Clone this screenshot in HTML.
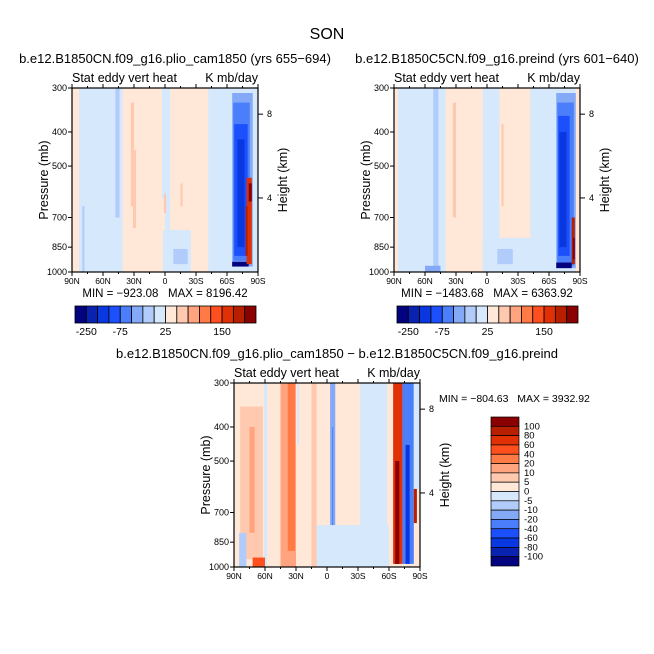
<!DOCTYPE html>
<html><head><meta charset="utf-8"><style>
body{margin:0;background:#fff}
svg{display:block;font-family:"Liberation Sans",sans-serif}
</style></head><body>
<svg id="c" width="654" height="654" viewBox="0 0 654 654">
<text x="327" y="39" font-size="16" text-anchor="middle">SON</text>
</svg>
<script>
const colors16 = ['#03037f','#0a22b0','#0a38e0','#1d50fd','#4a7efa','#83a9f7','#b1ccfb','#d6e8fc','#ffe8d8','#ffc9b0','#ffa47e','#ff7a45','#ff4f1f','#e03006','#b81e00','#8b0000'];
const barLabels = ['-250','-75','25','150'];
const barLabelIdx = [1,4,8,13];
const diffLabels = ['100','80','60','40','20','10','5','0','-5','-10','-20','-40','-60','-80','-100'];
const pTicks = [300,400,500,700,850,1000];
const latTicks = [90,60,30,0,-30,-60,-90];
const latNames = ['90N','60N','30N','0','30S','60S','90S'];
const hTicks = [8,4];
const hTickP = [356,616];
// bands: [latLeft, latRight, pTop, pBottom, colorIndex]
const bands1 = [[90,-90,300,1000,7],[90,83,300,1000,8],[83,41,300,1000,7],[48,44,300,700,6],[80,78,650,1000,6],[41,0,300,1000,8],[33,30,330,650,9],[31,28,450,750,9],[3,-5,300,620,7],[2,-25,760,1000,7],[-8,-22,860,950,6],[-5,-42,300,760,8],[-25,-42,760,1000,8],[-15,-17,560,650,9],[1,-1,600,680,9],[-42,-66,300,1000,7],[-65,-85,310,965,5],[-66,-82,330,930,4],[-67,-80,380,900,3],[-70,-77,420,850,2],[-65,-81,935,965,0],[-79,-84,540,950,13],[-81,-84,560,630,15],[-78,-80,650,900,14],[-85,-90,300,1000,7]];
const bands2 = [[90,-90,300,1000,7],[90,86,300,1000,8],[86,40,300,1000,7],[52,47,300,1000,6],[60,45,960,1000,5],[40,4,300,1000,8],[33,30,330,700,9],[4,-12,300,1000,7],[-12,-42,300,800,8],[-14,-16,380,650,9],[4,-40,800,1000,7],[-10,-25,860,950,6],[-42,-67,300,1000,7],[-67,-86,310,975,5],[-68,-84,330,960,4],[-69,-80,360,900,3],[-70,-77,400,850,2],[-67,-82,940,975,0],[-82,-85,700,950,14],[-83,-85,800,920,15],[-86,-90,300,1000,8]];
const bands3 = [[90,-90,300,1000,8],[84,62,350,950,9],[75,70,400,800,10],[61,58,300,1000,7],[45,30,300,1000,10],[38,31,300,900,11],[29,27,300,450,7],[15,10,300,1000,9],[-3,-8,300,1000,5],[-5,-6,400,800,4],[-32,-58,300,1000,7],[10,-60,760,1000,7],[85,78,800,1000,6],[72,60,940,1000,12],[-64,-73,300,980,13],[-66,-70,500,980,15],[-73,-84,300,980,4],[-76,-80,450,980,2],[-84,-90,300,600,7],[-84,-87,600,750,14]];
const svg = document.getElementById('c');
const NS = 'http://www.w3.org/2000/svg';
function mk(tag, attrs, parent){const e=document.createElementNS(NS,tag);for(const k in attrs)e.setAttribute(k,attrs[k]);(parent||svg).appendChild(e);return e;}
function panel(x0,y0,bands,title,mm,name){
  const w=186,h=184;
  const xOf=lat=>x0+(90-lat)/180*w;
  const yOf=p=>y0+Math.log(p/300)/Math.log(1000/300)*h;
  const g=mk('g',{});
  
  
  bands.forEach(b=>{
    const r=mk('rect',{x:xOf(b[0]),y:yOf(b[2]),width:xOf(b[1])-xOf(b[0]),height:yOf(b[3])-yOf(b[2]),fill:colors16[b[4]]},g);
    
    
  });
  const fr=mk('rect',{x:x0,y:y0,width:w,height:h,fill:'none',stroke:'#000','stroke-width':1.2},g);
  
  
  pTicks.forEach(p=>{
    mk('line',{x1:x0-4,x2:x0,y1:yOf(p),y2:yOf(p),stroke:'#000'},g);
    const t=mk('text',{x:x0-5,y:yOf(p)+3,'font-size':9,'text-anchor':'end'},g);t.textContent=p;
    
    
  });
  latTicks.forEach((l,i)=>{
    mk('line',{x1:xOf(l),x2:xOf(l),y1:y0+h,y2:y0+h+4,stroke:'#000'},g);
    mk('line',{x1:xOf(l),x2:xOf(l),y1:y0,y2:y0-4,stroke:'#000'},g);
    const t=mk('text',{x:xOf(l),y:y0+h+12,'font-size':8.5,'text-anchor':'middle'},g);t.textContent=latNames[i];
    
    
  });
  for(let l=75;l>-90;l-=15){if(l%30){mk('line',{x1:xOf(l),x2:xOf(l),y1:y0+h,y2:y0+h+2,stroke:'#000'},g);mk('line',{x1:xOf(l),x2:xOf(l),y1:y0,y2:y0-2,stroke:'#000'},g);}}
  hTicks.forEach((hk,i)=>{
    const y=yOf(hTickP[i]);
    mk('line',{x1:x0+w,x2:x0+w+5,y1:y,y2:y,stroke:'#000'},g);
    const t=mk('text',{x:x0+w+9,y:y+3,'font-size':9},g);t.textContent=hk;
    
    
  });
  const yl=mk('text',{transform:`translate(${x0-24},${y0+h/2}) rotate(-90)`,'font-size':12.5,'text-anchor':'middle'},g);yl.textContent='Pressure (mb)';
  
  
  const yr=mk('text',{transform:`translate(${x0+w+29},${y0+h/2}) rotate(-90)`,'font-size':12.5,'text-anchor':'middle'},g);yr.textContent='Height (km)';
  
  
  const s1=mk('text',{x:x0,y:y0-6,'font-size':12.5},g);s1.textContent='Stat eddy vert heat';
  
  
  const s2=mk('text',{x:x0+w,y:y0-6,'font-size':12.5,'text-anchor':'end'},g);s2.textContent='K mb/day';
  
  
  const tt=mk('text',{x:x0+w/2+10,y:y0-25,'font-size':13,'text-anchor':'middle'},g);tt.textContent=title;
  
  
  if(mm){const m=mk('text',{x:x0+w/2,y:y0+h+25,'font-size':11.5,'text-anchor':'middle'},g);m.textContent=mm;
    
    }
}
function hbar(x0,y0,name){
  const w=181/16;
  const g=mk('g',{});
  
  
  colors16.forEach((c,i)=>{const r=mk('rect',{x:x0+i*w,y:y0,width:w,height:17,fill:c,stroke:'#000','stroke-width':0.8},g);
    
    });
  barLabels.forEach((l,i)=>{const t=mk('text',{x:x0+barLabelIdx[i]*w,y:y0+29,'font-size':10.5,'text-anchor':'middle'},g);t.textContent=l;
    
    });
}
panel(72,88,bands1,'b.e12.B1850CN.f09_g16.plio_cam1850 (yrs 655\u2212694)','MIN = \u2212923.08\u00a0\u00a0\u00a0MAX = 8196.42','panel-plio');
panel(394,88,bands2,'b.e12.B1850C5CN.f09_g16.preind (yrs 601\u2212640)','MIN = \u22121483.68\u00a0\u00a0\u00a0MAX = 6363.92','panel-preind');
panel(234,383,bands3,'b.e12.B1850CN.f09_g16.plio_cam1850 \u2212 b.e12.B1850C5CN.f09_g16.preind','','panel-difference');
hbar(75,306,'colorbar-plio');
hbar(397,306,'colorbar-preind');
const mm3=mk('text',{x:439,y:402,'font-size':10.5});mm3.textContent='MIN = \u2212804.63\u00a0\u00a0\u00a0MAX = 3932.92';


const lg=mk('g',{});


const bh=149/16;
colors16.slice().reverse().forEach((c,i)=>{const r=mk('rect',{x:491,y:417+i*bh,width:28,height:bh,fill:c,stroke:'#000','stroke-width':0.7},lg);
  
  });
diffLabels.forEach((l,i)=>{const t=mk('text',{x:524,y:417+(i+1)*bh+3,'font-size':9.5},lg);t.textContent=l;
  
  });
</script>
</body></html>
